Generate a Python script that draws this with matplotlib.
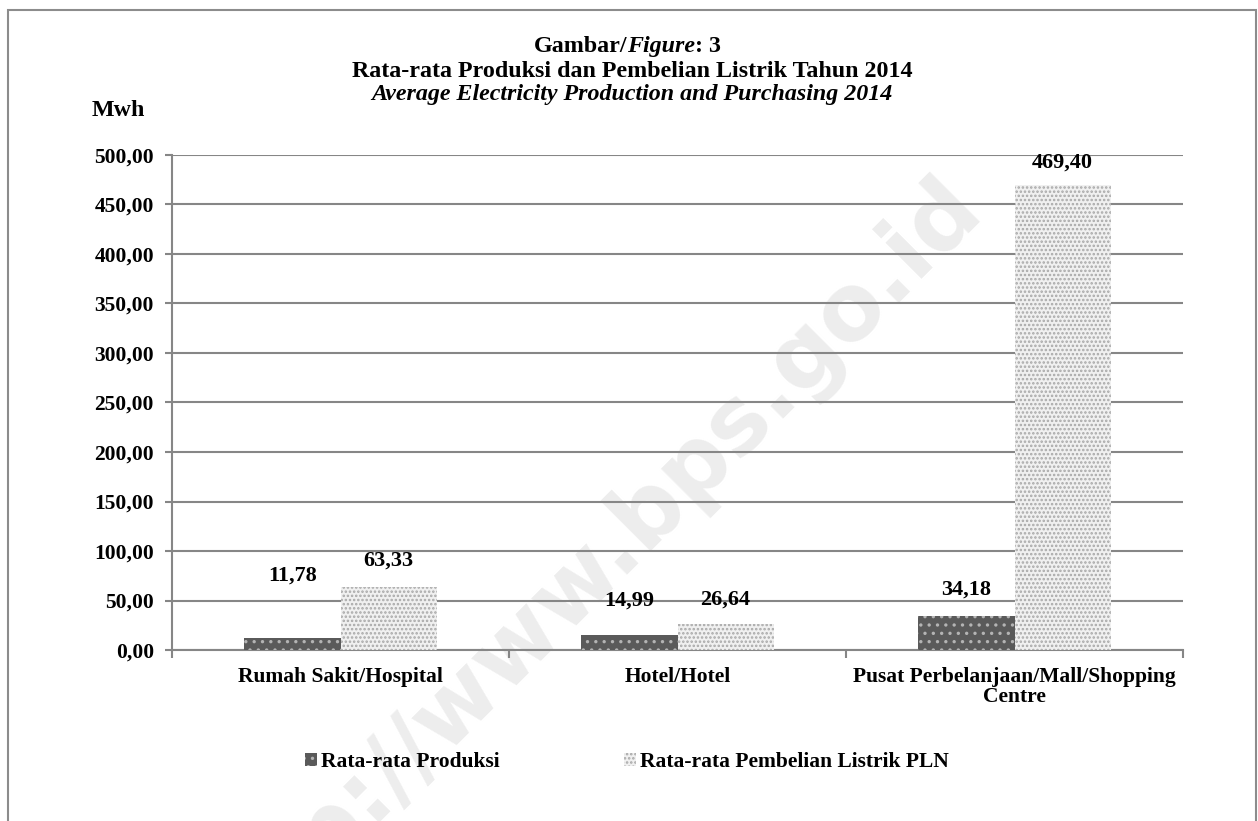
import matplotlib
matplotlib.use("Agg")
import matplotlib.pyplot as plt
from matplotlib.patches import Patch, Rectangle
import numpy as np

plt.rcParams['font.family'] = ['Liberation Serif', 'DejaVu Serif']
plt.rcParams['font.weight'] = 'bold'
plt.rcParams['hatch.linewidth'] = 1.2

# data
categories = ['Rumah Sakit/Hospital', 'Hotel/Hotel',
              'Pusat Perbelanjaan/Mall/Shopping\nCentre']
produksi = [11.78, 14.99, 34.18]
pembelian_pln = [63.33, 26.64, 469.40]
series_names = ['Rata-rata Produksi', 'Rata-rata Pembelian Listrik PLN']
y_ticks = [0, 50, 100, 150, 200, 250, 300, 350, 400, 450, 500]

# label offsets above bars (points), roughly as placed in the original
off_produksi = [45, 25, 19]
off_pln = [19, 17, 16]

W, H = 1258, 821
fig = plt.figure(figsize=(W / 100, H / 100), dpi=100)


def fx(px):
    return px / W


def fy(py):
    return 1 - py / H


ax = fig.add_axes([fx(172), fy(650), fx(1183) - fx(172), fy(155) - fy(650)])
ax.set_facecolor('none')

gray = '#868686'
fs = 15.5
fs_title = 17.3

x = np.arange(len(categories))
bw = 0.285
b1 = ax.bar(x - bw / 2, produksi, bw, color='#5a5a5a', edgecolor='#b4b4b4',
            hatch='..', linewidth=0, zorder=3)
b2 = ax.bar(x + bw / 2, pembelian_pln, bw, color='#f0f0f0', edgecolor='#a8a8a8',
            hatch='....', linewidth=0, zorder=3)

for bars, vals, offs in [(b1, produksi, off_produksi), (b2, pembelian_pln, off_pln)]:
    for r, v, o in zip(bars, vals, offs):
        ax.annotate(f"{v:.2f}".replace('.', ','),
                    (r.get_x() + r.get_width() / 2, v),
                    xytext=(0, o), textcoords='offset points',
                    ha='center', va='center', fontsize=16, fontweight='bold',
                    zorder=5)

ax.set_xlim(-0.5, len(categories) - 0.5)
ax.set_ylim(0, 500)
ax.set_yticks(y_ticks)
ax.set_yticklabels([f"{v:.2f}".replace('.', ',') for v in y_ticks],
                   fontsize=fs, fontweight='bold')
ax.yaxis.grid(True, color=gray, linewidth=1.5, zorder=0)
ax.set_axisbelow(True)

ax.set_xticks(x)
ax.set_xticklabels(categories, fontsize=fs, fontweight='bold', linespacing=1.05)
ax.set_xticks(np.arange(-0.5, len(categories)), minor=True)
ax.tick_params(axis='x', which='major', length=0, pad=12)
ax.tick_params(axis='x', which='minor', length=6, width=1.5, color=gray)
ax.tick_params(axis='y', length=5, width=1.5, color=gray, pad=8)

for s in ['top', 'right']:
    ax.spines[s].set_visible(False)
for s in ['left', 'bottom']:
    ax.spines[s].set_color(gray)
    ax.spines[s].set_linewidth(1.5)

# y unit
fig.text(fx(92), fy(110), 'Mwh', fontsize=fs_title, fontweight='bold',
         ha='left', va='center')

# title
t_fig = fig.text(fx(627), fy(52), 'Figure', fontsize=fs_title, fontweight='bold',
                 style='italic', ha='left', va='baseline')
fig.text(fx(627), fy(52), 'Gambar/', fontsize=fs_title, fontweight='bold',
         ha='right', va='baseline')
ax.annotate(': 3', xy=(1, 0), xycoords=t_fig, ha='left', va='bottom',
            fontsize=fs_title, fontweight='bold', annotation_clip=False)
fig.text(fx(632), fy(77), 'Rata-rata Produksi dan Pembelian Listrik Tahun 2014',
         fontsize=fs_title, fontweight='bold', ha='center', va='baseline')
fig.text(fx(632), fy(100), 'Average Electricity Production and Purchasing 2014',
         fontsize=fs_title, fontweight='bold', style='italic', ha='center',
         va='baseline')

# legend
handles = [Patch(facecolor='#5a5a5a', edgecolor='#b4b4b4', hatch='..', linewidth=0),
           Patch(facecolor='#f0f0f0', edgecolor='#a8a8a8', hatch='....', linewidth=0)]
fig.legend(handles, series_names, loc='center', bbox_to_anchor=(fx(627), fy(762)),
           ncol=2, frameon=False, handlelength=0.55,
           handleheight=0.55, handletextpad=0.2, columnspacing=5.8,
           prop={'weight': 'bold', 'size': fs})

# watermark
fig.text(fx(965), fy(192), 'http://www.bps.go.id', fontsize=66,
         family='DejaVu Sans', fontweight='bold', color='#ededed',
         rotation=45, rotation_mode='anchor', ha='right', va='center',
         zorder=-5)

# outer frame
fig.patches.append(Rectangle((fx(8), fy(840)), fx(1256) - fx(8), fy(10) - fy(840),
                             transform=fig.transFigure, fill=False,
                             edgecolor='#8c8c8c', linewidth=1.5, zorder=-4))

fig.savefig('out.png', dpi=100)
